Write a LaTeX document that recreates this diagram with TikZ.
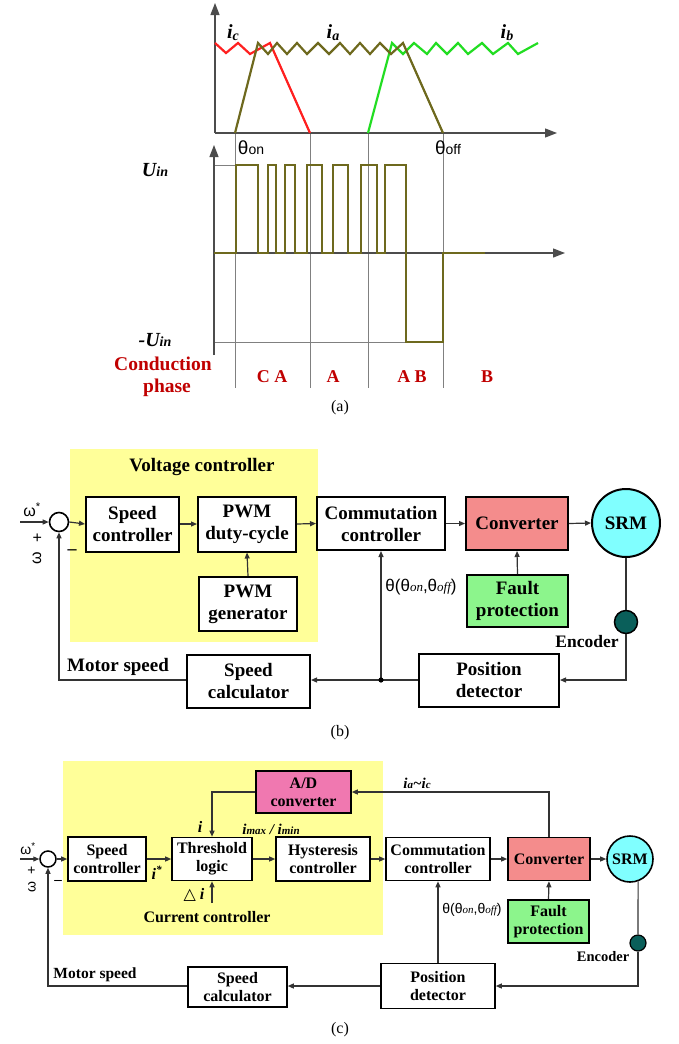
\documentclass[tikz,border=0pt]{standalone}
\usepackage{fontspec}
\setmainfont{Liberation Serif}
\newfontfamily\sansf{Liberation Sans}
\newfontfamily\dejavu{DejaVu Sans}
\usetikzlibrary{arrows.meta}
\definecolor{olivec}{HTML}{6E691E}
\definecolor{redc}{HTML}{FF2020}
\definecolor{greenc}{HTML}{22DD22}
\definecolor{darkred}{HTML}{C00000}
\definecolor{yel}{HTML}{FFFF99}
\definecolor{convc}{HTML}{F48C8C}
\definecolor{srmc}{HTML}{80FFFF}
\definecolor{faultc}{HTML}{8CF58C}
\definecolor{encc}{HTML}{0A5F5A}
\definecolor{adc}{HTML}{F078B0}
\newcommand{\bi}[1]{\bfseries\itshape #1}
\begin{document}
\begin{tikzpicture}[x=1pt,y=-1pt,
  blk/.style={draw=black,fill=white,line width=2pt,align=center,inner sep=0pt,font=\bfseries\fontsize{19}{22}\selectfont},
  blkc/.style={blk,line width=1.6pt,font=\bfseries\fontsize{16}{18}\selectfont},
  conn/.style={draw=black!80,line width=1.2pt},
  arr/.style={conn,-{Triangle[length=6pt,width=5pt]}},
  axisl/.style={draw=black!70,line width=1.3pt,-{Triangle[length=12pt,width=9pt]}},
  gridl/.style={draw=black!50,line width=0.8pt},
  wave/.style={line width=2.2pt,line join=miter},
  lbl/.style={inner sep=0pt},
  phase/.style={lbl,text=darkred,font=\bfseries\fontsize{18}{20}\selectfont}
]
\useasboundingbox (0,0) rectangle (678,1044);
% ================= (a) =================
\draw[gridl] (235,133) -- (235,388);
\draw[gridl] (310,133) -- (310,388);
\draw[gridl] (368,133) -- (368,388);
\draw[gridl] (443,133) -- (443,388);
\draw[gridl] (214,165) -- (236,165);
\draw[gridl] (214,342) -- (443,342);
\draw[axisl] (215,133) -- (215,3);
\draw[axisl] (215,133) -- (557,133);
\draw[axisl] (214,355) -- (214,145);
\draw[axisl] (214,253) -- (565,253);
% currents
\draw[wave,redc] (215,43) -- (226,53) -- (238,43) -- (250,54) -- (270,43) -- (310,133);
\draw[wave,greenc] (368,133) -- (392,43) -- (403,54) -- (414,43) -- (427,54) -- (436,43) -- (447,54) -- (458,43) -- (468,54) -- (482,43) -- (493,54) -- (508,43) -- (518,54) -- (538,43);
\draw[wave,olivec] (235,133) -- (258,43) -- (268,54) -- (277,43) -- (287,54) -- (297,43) -- (307,54) -- (318,43) -- (329,54) -- (340,43) -- (350,54) -- (360,43) -- (370,54) -- (380,43) -- (391,54) -- (403,43) -- (443,133);
% voltage
\draw[wave,olivec] (214,253) -- (236,253) -- (236,165) -- (258,165) -- (258,253) -- (268,253) -- (268,165) -- (276,165) -- (276,253) -- (285,253) -- (285,165) -- (295,165) -- (295,253) -- (307,253) -- (307,165) -- (322,165) -- (322,253) -- (333,253) -- (333,165) -- (348,165) -- (348,253) -- (361,253) -- (361,165) -- (377,165) -- (377,253) -- (385,253) -- (385,165) -- (406,165) -- (406,342) -- (443,342) -- (443,253) -- (485,253);
% labels
\node[lbl] (lic) at (233,33) {\fontsize{20}{20}\selectfont\bi{i}\raisebox{-2pt}{\fontsize{14}{14}\selectfont\bi{c}}};
\node[lbl] (lia) at (333,33) {\fontsize{20}{20}\selectfont\bi{i}\raisebox{-2pt}{\fontsize{14}{14}\selectfont\bi{a}}};
\node[lbl] (lib) at (507,33) {\fontsize{20}{20}\selectfont\bi{i}\raisebox{-2pt}{\fontsize{14}{14}\selectfont\bi{b}}};
\node[lbl] (lon) at (251,148) {\sansf\fontsize{19}{19}\selectfont θ\fontsize{14}{14}\selectfont on};
\node[lbl] (loff) at (448,148) {\sansf\fontsize{19}{19}\selectfont θ\fontsize{14}{14}\selectfont off};
\node[lbl] (luin) at (155,170) {\fontsize{20}{20}\selectfont\bi{U}\fontsize{14}{14}\selectfont\bi{in}};
\node[lbl] (lmuin) at (155,340) {\fontsize{20}{20}\selectfont\bi{-U}\fontsize{14}{14}\selectfont\bi{in}};
\node[phase,font=\bfseries\fontsize{19.5}{20}\selectfont] (lcond) at (163,364) {Conduction};
\node[phase,font=\bfseries\fontsize{19.5}{20}\selectfont] (lphase) at (167,388) {phase};
\node[phase] (pca) at (272,377) {C A};
\node[phase] (pa) at (333,377) {A};
\node[phase] (pab) at (412,377) {A B};
\node[phase] (pb) at (487,377) {B};
\node[lbl,font=\fontsize{16}{16}\selectfont] (capa) at (340,408) {(a)};
% ================= (b) =================
\fill[yel] (70,449) rectangle (318,642);
\node[lbl,font=\bfseries\fontsize{19}{20}\selectfont] (vc) at (202,467) {Voltage controller};
\node[circle,draw,fill=white,line width=1.6pt,minimum size=19,inner sep=0pt] (sum_b) at (59,522) {};
\node[blk,minimum width=93,minimum height=55] (sc_b) at (132.5,524) {Speed\\controller};
\node[blk,minimum width=98,minimum height=55] (pwm_b) at (247,524) {PWM\\duty-cycle};
\node[blk,minimum width=98,minimum height=54] (gen_b) at (248,604) {PWM\\generator};
\node[blk,minimum width=128,minimum height=53] (com_b) at (381,523.5) {Commutation\\controller};
\node[blk,fill=convc,minimum width=102,minimum height=53] (conv_b) at (517,523.5) {Converter};
\node[circle,draw,fill=srmc,line width=2pt,minimum size=68,inner sep=0pt,font=\bfseries\fontsize{19}{20}\selectfont] (srm_b) at (626,523) {SRM};
\node[blk,fill=faultc,minimum width=101,minimum height=52] (fault_b) at (517.5,601) {Fault\\protection};
\node[circle,draw,fill=encc,line width=1.5pt,minimum size=23,inner sep=0pt] (enc_b) at (626,622) {};
\node[blk,minimum width=140,minimum height=53] (pos_b) at (489,680) {Position\\detector};
\node[blk,minimum width=123,minimum height=53] (spc_b) at (248.5,681) {Speed\\calculator};
\coordinate (in_b) at (20,522);
\coordinate (j_b) at (com_b |- pos_b);
\draw[arr] (in_b) -- (sum_b.west);
\draw[arr] (sum_b.east) -- (sc_b.west);
\draw[arr] (sc_b.east) -- (pwm_b.west);
\draw[arr] (gen_b.north) -- (pwm_b.south);
\draw[arr] (pwm_b.east) -- (com_b.west);
\draw[arr] (com_b.east) -- (conv_b.west);
\draw[arr] (conv_b.east) -- (srm_b.west);
\draw[arr] (fault_b.north) -- (conv_b.south);
\draw[conn] (srm_b.south) -- (enc_b.north);
\draw[arr] (enc_b.south) |- (pos_b.east);
\draw[arr] (pos_b.west) -- (spc_b.east |- pos_b);
\draw[arr] (j_b) -- (com_b.south);
\draw[arr] (spc_b.west |- pos_b) -| (sum_b.south);
\fill (j_b) circle (2.6);
\node[lbl,font=\sansf\fontsize{16}{16}\selectfont] (wst_b) at (32,510) {ω\textsuperscript{*}};
\node[lbl,rotate=90,font=\sansf\fontsize{16}{16}\selectfont] (plus_b) at (38,538) {+};
\node[lbl,rotate=90,font=\sansf\fontsize{16}{16}\selectfont] (w_b) at (37,558) {ω};
\node[lbl,font=\bfseries\fontsize{18}{18}\selectfont] (min_b) at (72,552) {–};
\node[lbl,font=\bfseries\fontsize{19}{19}\selectfont] (ms_b) at (118,667) {Motor speed};
\node[lbl,font=\bfseries\fontsize{17.5}{17.5}\selectfont] (enl_b) at (587,642) {Encoder};
\node[lbl,font=\fontsize{17}{17}\selectfont] (th_b) at (421,587) {\sansf θ(θ\itshape\rmfamily\fontsize{13}{13}\selectfont on\sansf\upshape\fontsize{17}{17}\selectfont ,θ\itshape\rmfamily\fontsize{13}{13}\selectfont off\sansf\upshape\fontsize{17}{17}\selectfont )};
\node[lbl,font=\fontsize{16}{16}\selectfont] (capb) at (340,733) {(b)};
% ================= (c) =================
\fill[yel] (63,761) rectangle (383,935);
\node[circle,draw,fill=white,line width=1.5pt,minimum size=16,inner sep=0pt] (sum_c) at (48,859) {};
\node[blkc,minimum width=78,minimum height=44] (sc_c) at (107,859) {Speed\\controller};
\node[blkc,minimum width=80,minimum height=43] (thr_c) at (212,859) {Threshold\\logic};
\node[blkc,minimum width=94,minimum height=44] (hys_c) at (323,859) {Hysteresis\\controller};
\node[blkc,minimum width=104,minimum height=43] (com_c) at (438,859) {Commutation\\controller};
\node[blkc,fill=convc,minimum width=82,minimum height=43] (conv_c) at (549,859) {Converter};
\node[circle,draw,fill=srmc,line width=1.6pt,minimum size=46,inner sep=0pt,font=\bfseries\fontsize{16}{17}\selectfont] (srm_c) at (630,859) {SRM};
\node[blkc,fill=faultc,minimum width=81,minimum height=43] (fault_c) at (548.5,921.5) {Fault\\protection};
\node[circle,draw,fill=encc,line width=1.2pt,minimum size=16,inner sep=0pt] (enc_c) at (638,943) {};
\node[blkc,minimum width=114,minimum height=45] (pos_c) at (438,986) {Position\\detector};
\node[blkc,minimum width=99,minimum height=40] (spc_c) at (237.5,987) {Speed\\calculator};
\node[blkc,fill=adc,minimum width=95,minimum height=42] (ad_c) at (303.5,792) {A/D\\converter};
\coordinate (in_c) at (20,859);
\coordinate (di_c) at (212,903);
\draw[arr] (in_c) -- (sum_c.west);
\draw[arr] (sum_c.east) -- (sc_c.west);
\draw[arr] (sc_c.east) -- (thr_c.west);
\draw[arr] (thr_c.east) -- (hys_c.west);
\draw[arr] (hys_c.east) -- (com_c.west);
\draw[arr] (com_c.east) -- (conv_c.west);
\draw[arr] (conv_c.east) -- (srm_c.west);
\draw[arr] (fault_c.north) -- (conv_c.south);
\draw[arr] (conv_c.north) |- (ad_c.east);
\draw[arr] (ad_c.west) -| (thr_c.north);
\draw[arr] (di_c) -- (thr_c.south);
\draw[conn] (srm_c.-70) -- (enc_c.north);
\draw[arr] (enc_c.south) |- (pos_c.east);
\draw[arr] (pos_c.north) -- (com_c.south);
\draw[arr] (pos_c.west) -- (spc_c.east |- pos_c);
\draw[arr] (spc_c.west |- pos_c) -| (sum_c.south);
\node[lbl,font=\sansf\fontsize{14}{14}\selectfont] (wst_c) at (28,849) {ω\textsuperscript{*}};
\node[lbl,rotate=90,font=\sansf\fontsize{14}{14}\selectfont] (plus_c) at (32,870) {+};
\node[lbl,rotate=90,font=\sansf\fontsize{14}{14}\selectfont] (w_c) at (32,887) {ω};
\node[lbl,font=\bfseries\fontsize{15}{15}\selectfont] (min_c) at (58,882) {–};
\node[lbl,font=\fontsize{16}{16}\selectfont] (istar) at (157,873) {\bi{i}\textsuperscript{*}};
\node[lbl,font=\fontsize{16}{16}\selectfont] (il) at (200,827) {\bi{i}};
\node[lbl,font=\fontsize{15}{15}\selectfont] (imax) at (271,829) {\bi{i}{\fontsize{11}{11}\selectfont\bi{max}} \bi{/} \bi{i}{\fontsize{11}{11}\selectfont\bi{min}}};
\node[lbl,font=\fontsize{16}{16}\selectfont] (dil) at (194,895) {{\dejavu △} \bi{i}};
\node[lbl,font=\bfseries\fontsize{16}{16}\selectfont] (cc) at (207,917) {Current controller};
\node[lbl,font=\fontsize{15}{15}\selectfont] (iaic) at (417,783) {\bi{i}{\fontsize{11}{11}\selectfont\bi{a}}\bi{\textasciitilde}\bi{i}{\fontsize{11}{11}\selectfont\bi{c}}};
\node[lbl,font=\bfseries\fontsize{15.5}{15.5}\selectfont] (ms_c) at (95,975) {Motor speed};
\node[lbl,font=\bfseries\fontsize{14.5}{14.5}\selectfont] (enl_c) at (603,957) {Encoder};
\node[lbl,font=\fontsize{14}{14}\selectfont] (th_c) at (472,910) {\sansf θ(θ\itshape\rmfamily\fontsize{11}{11}\selectfont on\sansf\upshape\fontsize{14}{14}\selectfont ,θ\itshape\rmfamily\fontsize{11}{11}\selectfont off\sansf\upshape\fontsize{14}{14}\selectfont )};
\node[lbl,font=\fontsize{16}{16}\selectfont] (capc) at (340,1030) {(c)};
\end{tikzpicture}
\end{document}
